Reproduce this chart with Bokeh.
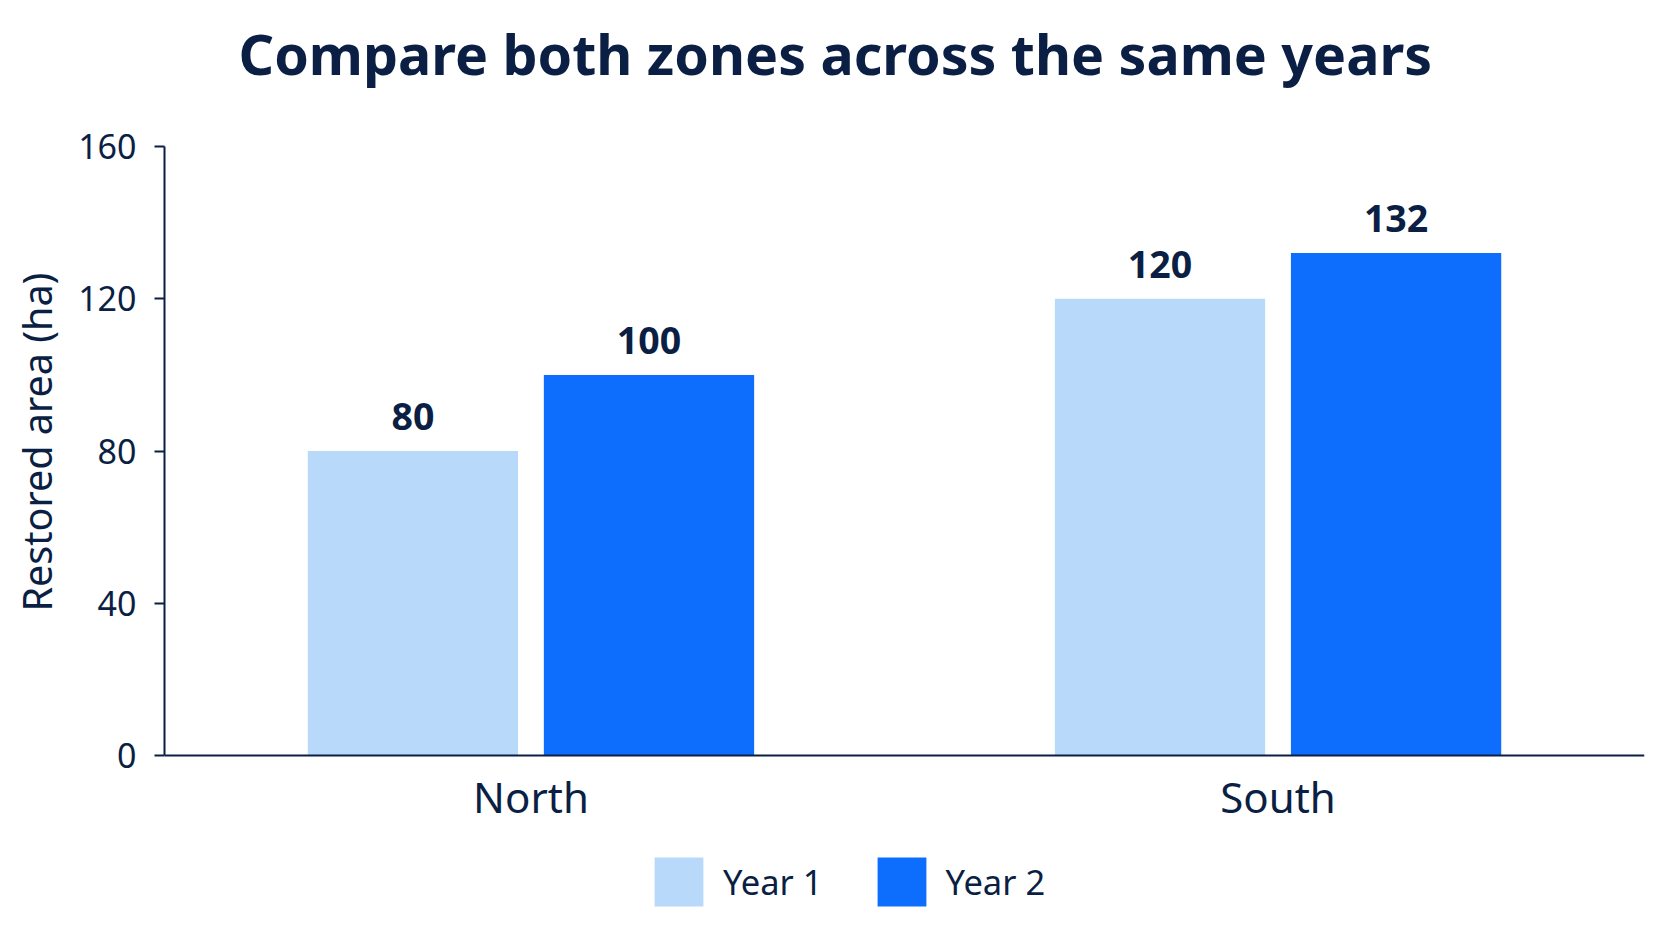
from bokeh.plotting import figure
from bokeh.models import ColumnDataSource, FixedTicker, Legend, LegendItem, LabelSet, FactorRange, Title
from bokeh.core.properties import value
from bokeh.transform import dodge
from bokeh.embed import file_html
from bokeh.resources import INLINE

# data
zones = ["North", "South"]
year1 = [80, 120]
year2 = [100, 132]
series_names = ["Year 1", "Year 2"]
y_ticks = [0, 40, 80, 120, 160]
y_label = "Restored area (ha)"

NAVY = "#0b1f44"
LIGHT = "#b8d9fa"
BLUE = "#0d6efd"
FONT = "Noto Sans"

source = ColumnDataSource(data=dict(zone=zones, year1=year1, year2=year2))

x_range = FactorRange(factors=zones, range_padding=-0.0095, range_padding_units="absolute")

# the frame runs down to the canvas bottom so the legend can sit inside it;
# the axes are pinned at y=0 and bounded to 0..160
p = figure(x_range=x_range, y_range=(-44.66, 172.1),
           width=1656, height=925,
           output_backend="svg", toolbar_location=None, tools="",
           min_border_left=164, min_border_right=12,
           min_border_top=100, min_border_bottom=0)

p.title.text = "Compare both zones across the same years"
p.title.align = "left"
p.title.offset = 74
p.title.text_font = FONT
p.title.text_font_size = "55.5px"
p.title.text_font_style = "bold"
p.title.text_color = NAVY
p.title.standoff = 20

r1 = p.vbar(x=dodge("zone", -0.158, range=p.x_range), top="year1", width=0.2815,
            source=source, fill_color=LIGHT, line_color=None)
r2 = p.vbar(x=dodge("zone", 0.158, range=p.x_range), top="year2", width=0.2815,
            source=source, fill_color=BLUE, line_color=None)

# value labels above bars
for col, off in (("year1", -0.158), ("year2", 0.158)):
    labels = LabelSet(x=dodge("zone", off, range=p.x_range), y=col, text=col,
                      source=source, y_offset=21, text_align="center",
                      text_baseline="alphabetic", text_font=value(FONT),
                      text_font_size="37.5px", text_font_style="bold",
                      text_color=NAVY)
    p.add_layout(labels)

# axes
p.xgrid.visible = False
p.ygrid.visible = False
p.outline_line_color = None

p.yaxis.ticker = FixedTicker(ticks=y_ticks)
p.yaxis.bounds = (0, 160)
p.yaxis.major_label_text_font = FONT
p.yaxis.major_label_text_font_size = "34px"
p.yaxis.major_label_text_color = NAVY
p.yaxis.major_label_standoff = 18
p.yaxis.major_tick_out = 10
p.yaxis.major_tick_in = 0
p.yaxis.minor_tick_line_color = None
p.yaxis.major_tick_line_color = NAVY
p.yaxis.major_tick_line_width = 2

# y axis title, centred on the 0..160 span rather than on the whole frame
p.add_layout(Title(text=y_label, align="left", offset=314, vertical_align="top",
                   standoff=19, text_font=FONT, text_font_size="39.5px",
                   text_font_style="normal", text_color=NAVY), "left")

p.xaxis.fixed_location = 0
p.xaxis.major_label_text_font = FONT
p.xaxis.major_label_text_font_size = "42px"
p.xaxis.major_label_text_color = NAVY
p.xaxis.major_label_standoff = 6
p.xaxis.major_tick_line_color = None
p.xaxis.minor_tick_line_color = None

for ax in (p.xaxis, p.yaxis):
    ax.axis_line_color = NAVY
    ax.axis_line_width = 2

legend = Legend(items=[LegendItem(label=series_names[0], renderers=[r1]),
                       LegendItem(label=series_names[1], renderers=[r2])],
                orientation="horizontal", location=(484, 13),
                glyph_width=61, glyph_height=61, label_standoff=14,
                spacing=48, padding=10,
                label_text_font=FONT, label_text_font_size="34.5px",
                label_text_color=NAVY,
                border_line_color=None, background_fill_alpha=0)
p.add_layout(legend, "center")

open("out.html", "w").write(file_html(p, INLINE))
